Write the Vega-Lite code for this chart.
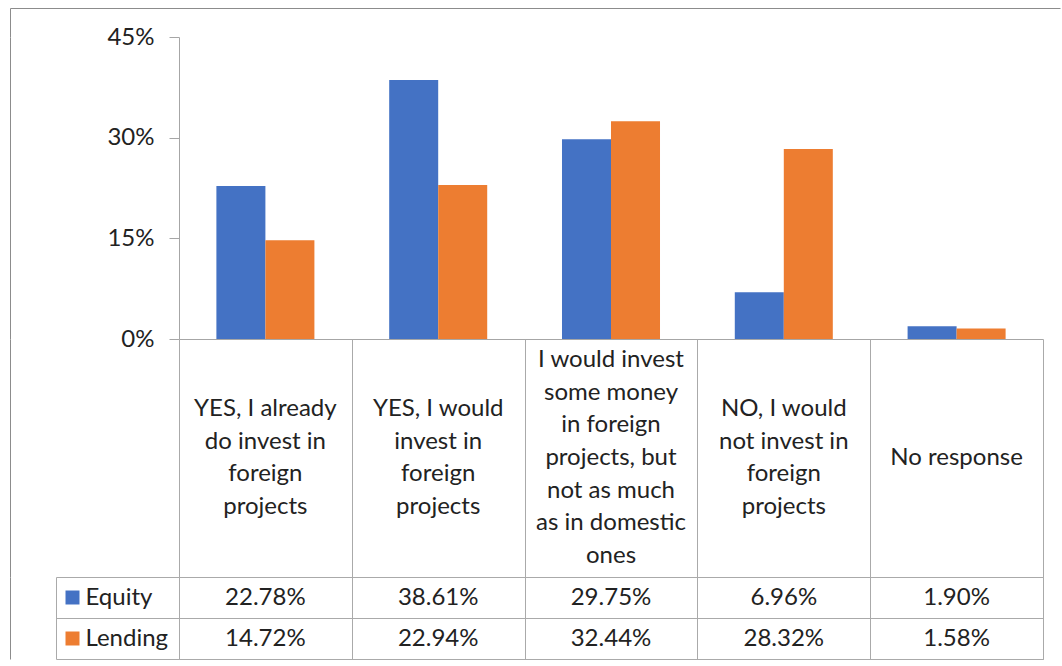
{
  "$schema": "https://vega.github.io/schema/vega-lite/v6.json",
  "padding": {"left": 9, "top": 7, "right": 0, "bottom": 0},
  "background": "white",
  "spacing": 0,
  "bounds": "flush",
  "config": {"font": "Lato", "view": {"stroke": null}, "axis": {"labelFont": "Lato"}},
  "resolve": {"scale": {"x": "independent", "y": "independent"}},
  "datasets": {
    "bars": [
      {"category": "YES, I already do invest in foreign projects", "series": "Equity", "value": 0.2278},
      {"category": "YES, I already do invest in foreign projects", "series": "Lending", "value": 0.1472},
      {"category": "YES, I would invest in foreign projects", "series": "Equity", "value": 0.3861},
      {"category": "YES, I would invest in foreign projects", "series": "Lending", "value": 0.2294},
      {"category": "I would invest some money in foreign projects, but not as much as in domestic ones", "series": "Equity", "value": 0.2975},
      {"category": "I would invest some money in foreign projects, but not as much as in domestic ones", "series": "Lending", "value": 0.3244},
      {"category": "NO, I would not invest in foreign projects", "series": "Equity", "value": 0.0696},
      {"category": "NO, I would not invest in foreign projects", "series": "Lending", "value": 0.2832},
      {"category": "No response", "series": "Equity", "value": 0.019},
      {"category": "No response", "series": "Lending", "value": 0.0158}
    ],
    "cats": [
      {"category": "YES, I already do invest in foreign projects", "label": "YES, I already\ndo invest in\nforeign\nprojects"},
      {"category": "YES, I would invest in foreign projects", "label": "YES, I would\ninvest in\nforeign\nprojects"},
      {"category": "I would invest some money in foreign projects, but not as much as in domestic ones", "label": "I would invest\nsome money\nin foreign\nprojects, but\nnot as much\nas in domestic\nones"},
      {"category": "NO, I would not invest in foreign projects", "label": "NO, I would\nnot invest in\nforeign\nprojects"},
      {"category": "No response", "label": "No response"}
    ]
  },
  "vconcat": [
    {
      "width": 864,
      "height": 29,
      "data": {"name": "cats"},
      "mark": {"type": "text", "text": ""},
      "encoding": {
        "y": {"datum": 0, "type": "quantitative", "scale": {"domain": [0, 1]},
          "axis": {"orient": "right", "offset": -1033, "values": [1], "tickSize": 1050, "tickColor": "#8c8c8c", "domainColor": "#8c8c8c", "labels": false, "grid": false, "title": null}}
      }
    },
    {
      "width": 864,
      "height": 302,
      "data": {"name": "bars"},
      "resolve": {"axis": {"y": "independent"}},
      "layer": [
        {
          "mark": {"type": "bar"},
          "encoding": {
            "x": {"field": "category", "type": "nominal", "sort": null,
              "scale": {"domain": ["YES, I already do invest in foreign projects", "YES, I would invest in foreign projects", "I would invest some money in foreign projects, but not as much as in domestic ones", "NO, I would not invest in foreign projects", "No response"], "paddingInner": 0, "paddingOuter": 0},
              "axis": {"orient": "bottom", "domain": true, "domainColor": "#a6a6a6", "ticks": false, "labels": false, "title": null, "grid": false}},
            "xOffset": {"field": "series", "type": "nominal", "scale": {"domain": ["Equity", "Lending"], "paddingInner": 0, "paddingOuter": 0.763}},
            "y": {"field": "value", "type": "quantitative", "scale": {"domain": [0, 0.45], "nice": false},
              "axis": {"orient": "left", "values": [0, 0.15, 0.3, 0.45], "format": ".0%", "tickSize": 10, "tickColor": "#a6a6a6", "domainColor": "#a6a6a6", "labelFontSize": 24, "labelColor": "#222222", "labelPadding": 15, "grid": false, "title": null}},
            "color": {"field": "series", "type": "nominal", "scale": {"domain": ["Equity", "Lending"], "range": ["#4472c4", "#ed7d31"]}, "legend": null}
          }
        },
        {
          "mark": {"type": "text", "text": ""},
          "encoding": {
            "y": {"field": "value", "type": "quantitative",
              "axis": {"orient": "left", "offset": 169, "domainColor": "#8c8c8c", "ticks": false, "labels": false, "grid": false, "title": null}}
          }
        }
      ]
    },
    {
      "width": 864,
      "height": 238,
      "data": {"name": "cats"},
      "mark": {"type": "text", "fontSize": 24, "lineHeight": 32.6, "lineBreak": "\n", "color": "#222222",
        "dy": {"expr": "-(length(split(datum.label, '\\n')) - 1) * 16.3"}},
      "encoding": {
        "x": {"field": "category", "type": "nominal", "sort": null,
          "scale": {"domain": ["YES, I already do invest in foreign projects", "YES, I would invest in foreign projects", "I would invest some money in foreign projects, but not as much as in domestic ones", "NO, I would not invest in foreign projects", "No response"], "paddingInner": 0, "paddingOuter": 0},
          "axis": {"orient": "bottom", "grid": true, "gridColor": "#aaaaaa", "gridOpacity": 1, "tickBand": "extent", "ticks": false, "labels": false, "domain": false, "title": null}},
        "y": {"datum": 0.5, "type": "quantitative", "scale": {"domain": [0, 1]},
          "axis": {"orient": "left", "offset": 169, "domainColor": "#8c8c8c", "ticks": false, "labels": false, "grid": false, "title": null}},
        "text": {"field": "label"}
      }
    },
    {
      "width": 864,
      "height": 82,
      "data": {"name": "bars"},
      "view": {"stroke": "#aaaaaa"},
      "resolve": {"axis": {"y": "independent"}},
      "layer": [
        {
          "mark": {"type": "text", "fontSize": 24, "color": "#222222"},
          "encoding": {
            "x": {"field": "category", "type": "nominal", "sort": null,
              "scale": {"domain": ["YES, I already do invest in foreign projects", "YES, I would invest in foreign projects", "I would invest some money in foreign projects, but not as much as in domestic ones", "NO, I would not invest in foreign projects", "No response"], "paddingInner": 0, "paddingOuter": 0},
              "axis": {"orient": "bottom", "grid": true, "gridColor": "#aaaaaa", "gridOpacity": 1, "tickBand": "extent", "ticks": false, "labels": false, "domain": false, "title": null}},
            "y": {"field": "series", "type": "nominal", "scale": {"domain": ["Equity", "Lending"], "paddingInner": 0, "paddingOuter": 0},
              "axis": {"orient": "left", "grid": true, "gridColor": "#aaaaaa", "gridOpacity": 1, "tickBand": "extent", "tickSize": 123, "tickColor": "#aaaaaa", "labels": false, "domain": false, "title": null}},
            "text": {"field": "value", "type": "quantitative", "format": ".2%"}
          }
        },
        {
          "mark": {"type": "text", "text": ""},
          "encoding": {
            "y": {"field": "series", "type": "nominal",
              "axis": {"orient": "left", "offset": 100, "tickSize": 14, "tickWidth": 14,
                "tickColor": {"condition": {"test": "datum.value === 'Equity'", "value": "#4472c4"}, "value": "#ed7d31"},
                "domain": false, "grid": false, "labelAlign": "left", "labelPadding": -20, "labelFontSize": 24, "labelColor": "#222222", "title": null}}
          }
        },
        {
          "mark": {"type": "text", "text": ""},
          "encoding": {
            "y": {"field": "series", "type": "nominal",
              "axis": {"orient": "left", "offset": 123, "ticks": false, "labels": false, "grid": false, "domainColor": "#aaaaaa", "title": null}}
          }
        },
        {
          "mark": {"type": "text", "text": ""},
          "encoding": {
            "y": {"field": "series", "type": "nominal",
              "axis": {"orient": "left", "offset": 169, "ticks": false, "labels": false, "grid": false, "domainColor": "#8c8c8c", "title": null}}
          }
        }
      ]
    }
  ]
}
